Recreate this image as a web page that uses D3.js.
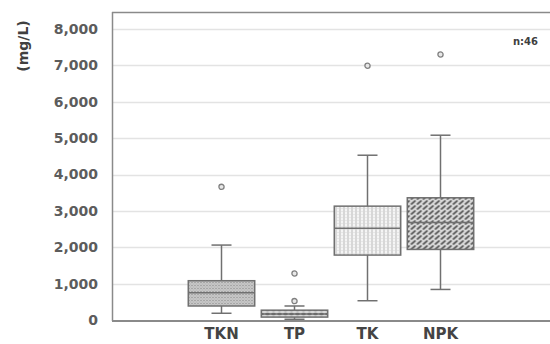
<!DOCTYPE html>
<html>
<head>
<meta charset="utf-8">
<script src="https://cdn.jsdelivr.net/npm/d3@7"></script>
<style>
    body { margin: 0; background: #fff; }
    svg { display: block; font-family: "DejaVu Sans", sans-serif; font-weight: bold; }
</style>
</head>
<body>
<div id="chart"></div>
<script>
document.addEventListener("DOMContentLoaded", function () {

    // slots on the x axis, the first and last stay empty
    const slots = ["_a", "TKN", "TP", "TK", "NPK", "_b"];
    const categories = ["TKN", "TP", "TK", "NPK"];

    const whiskerLow = [185, 20, 530, 840];
    const q1 = [385, 80, 1785, 1940];
    const median = [750, 165, 2520, 2680];
    const q3 = [1080, 270, 3130, 3360];
    const whiskerHigh = [2060, 385, 4530, 5080];
    const outliers = [[3660], [520, 1280], [6990], [7300]];

    const yTicks = [0, 1000, 2000, 3000, 4000, 5000, 6000, 7000, 8000];

    const width = 550, height = 344;

    const svg = d3.select('#chart')
        .append('svg')
        .attr('width', width)
        .attr('height', height);

    const x = d3.scaleBand()
        .domain(slots)
        .range([112, 550])
        .padding(0);

    const y = d3.scaleLinear()
        .domain([0, 8000])
        .range([320, 29]);

    /* fill patterns */

    const defs = svg.append('defs');

    let p = defs.append('pattern').attr('id', 'pat-TKN')
        .attr('patternUnits', 'userSpaceOnUse').attr('width', 3).attr('height', 3);
    p.append('rect').attr('width', 3).attr('height', 3).attr('fill', '#c9c9c9');
    p.append('rect').attr('width', 1).attr('height', 1).attr('fill', '#858585');
    p.append('rect').attr('x', 1.5).attr('y', 1.5).attr('width', 1).attr('height', 1).attr('fill', '#a0a0a0');

    p = defs.append('pattern').attr('id', 'pat-TP')
        .attr('patternUnits', 'userSpaceOnUse').attr('width', 6).attr('height', 4);
    p.append('rect').attr('width', 6).attr('height', 4).attr('fill', '#d8d8d8');
    p.append('ellipse').attr('cx', 3).attr('cy', 2).attr('rx', 2.4).attr('ry', 1.3).attr('fill', '#5a5a5a');

    p = defs.append('pattern').attr('id', 'pat-TK')
        .attr('patternUnits', 'userSpaceOnUse').attr('width', 4).attr('height', 3);
    p.append('rect').attr('width', 4).attr('height', 3).attr('fill', '#f5f5f5');
    p.append('rect').attr('width', 1).attr('height', 3).attr('fill', '#b8b8b8');
    p.append('rect').attr('x', 2).attr('y', 1).attr('width', 1).attr('height', 1).attr('fill', '#d8d8d8');

    p = defs.append('pattern').attr('id', 'pat-NPK')
        .attr('patternUnits', 'userSpaceOnUse').attr('width', 6).attr('height', 5);
    p.append('rect').attr('width', 6).attr('height', 5).attr('fill', '#d9d9d9');
    p.append('path').attr('d', 'M1,4L4.5,1')
        .attr('stroke', '#5e5e5e').attr('stroke-width', 1.7).attr('stroke-linecap', 'round');

    /* grid and frame */

    svg.append('g')
        .selectAll('line')
        .data(yTicks.filter(d => d > 0))
        .join('line')
        .attr('x1', 112).attr('x2', 550)
        .attr('y1', d => Math.round(y(d)) + 0.5)
        .attr('y2', d => Math.round(y(d)) + 0.5)
        .attr('stroke', '#e3e3e3')
        .attr('stroke-width', 1.5);

    const yAxis = svg.append('g')
        .attr('transform', 'translate(112,0)')
        .call(d3.axisLeft(y).tickValues(yTicks).tickSize(0).tickPadding(14).tickFormat(d3.format(',')));
    yAxis.select('.domain').remove();
    yAxis.selectAll('text')
        .attr('fill', '#5c5c5c')
        .style('font-size', '14px')
        .style('font-family', '"DejaVu Sans", sans-serif')
        .style('font-weight', 'bold');

    svg.append('line')
        .attr('x1', 112.5).attr('x2', 112.5).attr('y1', 12).attr('y2', 321)
        .attr('stroke', '#8a8a8a').attr('stroke-width', 1.5);
    svg.append('line')
        .attr('x1', 112).attr('x2', 550).attr('y1', 12.5).attr('y2', 12.5)
        .attr('stroke', '#8a8a8a').attr('stroke-width', 1.5);
    svg.append('line')
        .attr('x1', 112).attr('x2', 550).attr('y1', 321).attr('y2', 321)
        .attr('stroke', '#8a8a8a').attr('stroke-width', 2);

    const xAxis = svg.append('g')
        .attr('transform', 'translate(0,321)')
        .call(d3.axisBottom(x).tickValues(categories).tickSize(0).tickPadding(7));
    xAxis.select('.domain').remove();
    xAxis.selectAll('text')
        .attr('fill', '#444')
        .style('font-size', '15px')
        .style('font-family', '"DejaVu Sans", sans-serif')
        .style('font-weight', 'bold');

    /* boxes */

    const boxW = x.bandwidth() * 0.91;
    const capW = 20;
    const stroke = '#707070';

    const box = svg.append('g')
        .selectAll('g')
        .data(categories)
        .join('g')
        .attr('transform', d => `translate(${x(d) + x.bandwidth() / 2},0)`);

    box.append('line')
        .attr('y1', (d, i) => y(whiskerLow[i]))
        .attr('y2', (d, i) => y(whiskerHigh[i]))
        .attr('stroke', stroke).attr('stroke-width', 1.5);

    box.append('line')
        .attr('x1', -capW / 2).attr('x2', capW / 2)
        .attr('y1', (d, i) => y(whiskerHigh[i]))
        .attr('y2', (d, i) => y(whiskerHigh[i]))
        .attr('stroke', stroke).attr('stroke-width', 1.5);

    box.append('line')
        .attr('x1', -capW / 2).attr('x2', capW / 2)
        .attr('y1', (d, i) => y(whiskerLow[i]))
        .attr('y2', (d, i) => y(whiskerLow[i]))
        .attr('stroke', stroke).attr('stroke-width', 1.5);

    box.append('rect')
        .attr('x', -boxW / 2)
        .attr('width', boxW)
        .attr('y', (d, i) => y(q3[i]))
        .attr('height', (d, i) => y(q1[i]) - y(q3[i]))
        .attr('fill', d => `url(#pat-${d})`)
        .attr('stroke', stroke).attr('stroke-width', 1.5);

    box.append('line')
        .attr('x1', -boxW / 2).attr('x2', boxW / 2)
        .attr('y1', (d, i) => y(median[i]))
        .attr('y2', (d, i) => y(median[i]))
        .attr('stroke', stroke).attr('stroke-width', 1.5);

    box.selectAll('circle')
        .data((d, i) => outliers[i])
        .join('circle')
        .attr('cy', d => y(d))
        .attr('r', 2.6)
        .attr('fill', '#e8e8e8')
        .attr('stroke', '#808080')
        .attr('stroke-width', 1.3);

    /* texts */

    svg.append('text')
        .attr('transform', 'translate(28,46) rotate(-90)')
        .attr('text-anchor', 'middle')
        .attr('fill', '#404040')
        .style('font-size', '14px')
        .text('(mg/L)');

    svg.append('text')
        .attr('x', 538).attr('y', 45)
        .attr('text-anchor', 'end')
        .attr('fill', '#404040')
        .style('font-size', '10px')
        .text('n:46');

});
</script>
</body>
</html>
